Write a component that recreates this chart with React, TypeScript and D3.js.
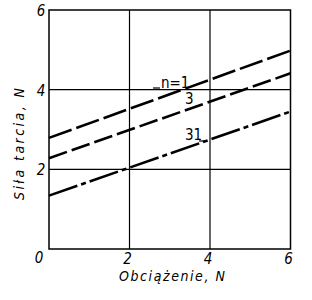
import React from "react";
import * as d3 from "d3";

const loads = [0, 6];
const seriesN1 = [2.79, 4.98];
const seriesN3 = [2.28, 4.41];
const seriesN31 = [1.34, 3.45];
const xTicks = [2, 4, 6];
const yTicks = [2, 4, 6];
const gridX = [2, 4];
const gridY = [2, 4];
const labels = ["n=1", "3", "31"];

const W = 312;
const H = 300;
const FONT = '"DejaVu Sans Condensed", "DejaVu Sans", sans-serif';

export default function App() {
  const x = d3.scaleLinear().domain([0, 6]).range([49, 290.5]);
  const y = d3.scaleLinear().domain([0, 6]).range([249, 10]);
  const line = d3
    .line<number>()
    .x((_, i) => x(loads[i]))
    .y((d) => y(d));

  const series = [
    { v: seriesN1, dash: "24,5" },
    { v: seriesN3, dash: "19,5" },
    { v: seriesN31, dash: "30,4,5,4" },
  ];

  return (
    <svg
      width={W}
      height={H}
      style={{ position: "absolute", left: 0, top: 0, background: "#fff" }}
    >
      <rect x={0} y={0} width={W} height={H} fill="#fff" />
      {gridX.map((g) => (
        <line key={"gx" + g} x1={x(g)} x2={x(g)} y1={y(0)} y2={y(6)} stroke="#000" strokeWidth={1.2} />
      ))}
      {gridY.map((g) => (
        <line key={"gy" + g} x1={x(0)} x2={x(6)} y1={y(g)} y2={y(g)} stroke="#000" strokeWidth={1.2} />
      ))}
      <rect
        x={x(0)}
        y={y(6)}
        width={x(6) - x(0)}
        height={y(0) - y(6)}
        fill="none"
        stroke="#000"
        strokeWidth={1.5}
      />
      {series.map((s, i) => (
        <path
          key={i}
          d={line(s.v) || ""}
          fill="none"
          stroke="#000"
          strokeWidth={2.6}
          strokeDasharray={s.dash}
        />
      ))}
      <g fontFamily={FONT} fontStyle="italic" fontSize={15} fill="#000">
        {xTicks.map((t) => (
          <text key={"xt" + t} x={x(t) - 2} y={264} textAnchor="middle">
            {t}
          </text>
        ))}
        {yTicks.map((t) => (
          <text key={"yt" + t} x={41} y={y(t) + 6} textAnchor="middle">
            {t}
          </text>
        ))}
        <text x={39} y={263} textAnchor="middle">0</text>
      </g>
      <g fontFamily={FONT} fontStyle="italic" fontSize={14} fill="#000">
        <text x={119} y={281} textLength={106} lengthAdjust="spacing">
          Obciążenie, N
        </text>
        <text
          transform="translate(24,200) rotate(-90)"
          textLength={112}
          lengthAdjust="spacing"
        >
          Siła tarcia, N
        </text>
      </g>
      <g fontFamily={FONT} fontSize={15} fill="#000">
        <text x={161} y={88}>{labels[0]}</text>
        <text x={185} y={104}>{labels[1]}</text>
        <text x={185} y={140}>{labels[2]}</text>
      </g>
      <line x1={153} x2={160} y1={88} y2={88} stroke="#000" strokeWidth={1.2} />
      <line x1={199} x2={207} y1={141} y2={141} stroke="#000" strokeWidth={1.2} />
    </svg>
  );
}
